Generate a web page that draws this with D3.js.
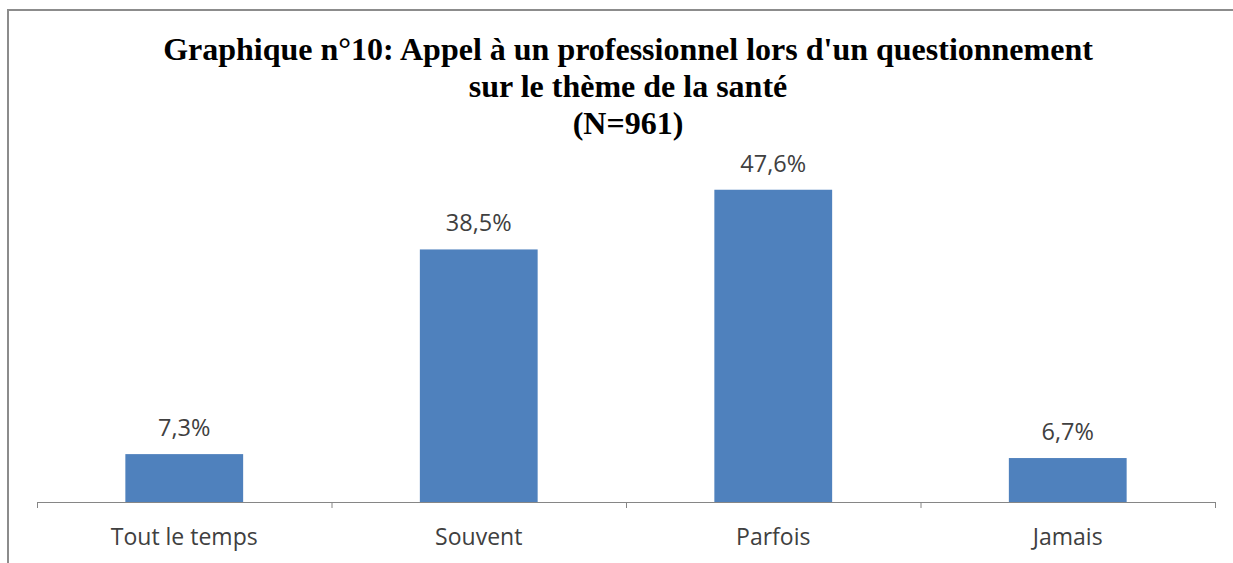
<html>
<head>
<meta charset="utf-8">
<script src="https://d3js.org/d3.v7.min.js"></script>
<style>
    body { margin: 0; background: #fff; }
    svg { display: block; }
</style>
</head>
<body>
<svg id="chart" width="1233" height="563"></svg>
<script>
// data
const categories = ["Tout le temps", "Souvent", "Parfois", "Jamais"];
const values = [7.3, 38.5, 47.6, 6.7];
const valueLabels = ["7,3%", "38,5%", "47,6%", "6,7%"];
const titleLines = [
    "Graphique n°10: Appel à un professionnel lors d'un questionnement",
    "sur le thème de la santé",
    "(N=961)"
];

const svg = d3.select("#chart");

// outer frame (right/bottom edges fall off the picture)
svg.append("rect")
    .attr("x", 8).attr("y", 10)
    .attr("width", 1300).attr("height", 600)
    .attr("fill", "#fff")
    .attr("stroke", "#8c8c8c")
    .attr("stroke-width", 2);

const x = d3.scaleBand().domain(categories).range([37, 1215])
    .paddingInner(0.6).paddingOuter(0.3);
const y = d3.scaleLinear().domain([0, 50]).range([502, 174]);

// bars
svg.append("g").selectAll("rect")
    .data(categories)
    .join("rect")
    .attr("x", d => x(d))
    .attr("y", (d, i) => y(values[i]))
    .attr("width", x.bandwidth())
    .attr("height", (d, i) => y(0) - y(values[i]))
    .attr("fill", "#4f81bd");

// category axis, ticks between categories
const edges = d3.scaleLinear().domain([0, categories.length]).range([37, 1215]);
const axis = svg.append("g").attr("transform", `translate(0,${y(0)})`)
    .call(d3.axisBottom(edges).tickValues(d3.range(categories.length + 1))
        .tickFormat("").tickSize(6).tickSizeOuter(0));
axis.select(".domain").attr("stroke", "#868686");
axis.selectAll(".tick line").attr("stroke", "#868686");

// category labels
svg.append("g").selectAll("text")
    .data(categories)
    .join("text")
    .attr("x", d => x(d) + x.bandwidth() / 2)
    .attr("y", 545)
    .attr("text-anchor", "middle")
    .attr("font-family", "'Open Sans', sans-serif")
    .attr("font-size", 23)
    .attr("fill", "#404040")
    .text(d => d);

// value labels
svg.append("g").selectAll("text")
    .data(categories)
    .join("text")
    .attr("x", d => x(d) + x.bandwidth() / 2)
    .attr("y", (d, i) => y(values[i]) - 18)
    .attr("text-anchor", "middle")
    .attr("font-family", "'Open Sans', sans-serif")
    .attr("font-size", 23.5)
    .attr("fill", "#404040")
    .text((d, i) => valueLabels[i]);

// title
svg.append("g").selectAll("text")
    .data(titleLines)
    .join("text")
    .attr("x", 628)
    .attr("y", (d, i) => 60 + i * 37)
    .attr("text-anchor", "middle")
    .attr("font-family", "'Liberation Serif', 'Times New Roman', serif")
    .attr("font-weight", "bold")
    .attr("font-size", 32)
    .attr("fill", "#000")
    .text(d => d);
</script>
</body>
</html>
